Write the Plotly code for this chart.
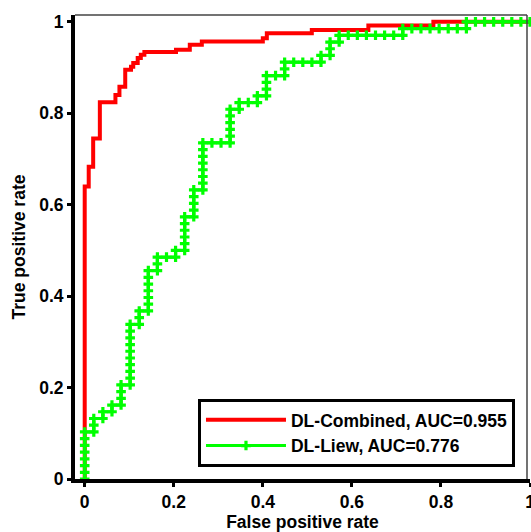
import plotly.graph_objects as go

# ---------------- data ----------------
# DL-Combined ROC curve vertices (false positive rate, true positive rate)
red_fpr = [0.0, 0.0, 0.009, 0.009, 0.019, 0.019, 0.034, 0.034, 0.069, 0.069,
           0.078, 0.078, 0.091, 0.091, 0.104, 0.104, 0.109, 0.109, 0.119, 0.119,
           0.126, 0.126, 0.134, 0.134, 0.205, 0.205, 0.236, 0.236, 0.263, 0.263,
           0.400, 0.400, 0.409, 0.409, 0.510, 0.510, 0.637, 0.637, 0.783, 0.783, 1.0]
red_tpr = [0.0, 0.640, 0.640, 0.683, 0.683, 0.745, 0.745, 0.824, 0.824, 0.840,
           0.840, 0.858, 0.858, 0.895, 0.895, 0.902, 0.902, 0.910, 0.910, 0.921,
           0.921, 0.928, 0.928, 0.934, 0.934, 0.939, 0.939, 0.950, 0.950, 0.957,
           0.957, 0.964, 0.964, 0.975, 0.975, 0.982, 0.982, 0.992, 0.992, 1.0, 1.0]

# DL-Liew ROC: number of negatives / positives and the true-positive count
# reached at each false-positive count (0..N_NEG)
N_NEG = 49
N_POS = 68
green_tp_at_fp = [7, 9, 10, 11, 14, 23, 25, 31, 33, 33,
                  34, 39, 43, 50, 50, 50, 55, 56, 56, 57,
                  60, 60, 62, 62, 62, 62, 63, 65, 66, 66,
                  66, 66, 66, 66, 66, 67, 67, 67, 67, 67,
                  67, 67, 68, 68, 68, 68, 68, 68, 68, 68]

series_names = ["DL-Combined, AUC=0.955", "DL-Liew, AUC=0.776"]
x_ticks = [0, 0.2, 0.4, 0.6, 0.8, 1]
x_tick_labels = ["0", "0.2", "0.4", "0.6", "0.8", "1"]
y_ticks = [0, 0.2, 0.4, 0.6, 0.8, 1]
y_tick_labels = ["0", "0.2", "0.4", "0.6", "0.8", "1"]

# ROC operating points of the DL-Liew curve (one per threshold step)
g_fp, g_tp = [0], [0]
tp = 0
for fp, top in enumerate(green_tp_at_fp):
    if fp > 0:
        g_fp.append(fp)
        g_tp.append(tp)
    while tp < top:
        tp += 1
        g_fp.append(fp)
        g_tp.append(tp)
green_fpr = [v / N_NEG for v in g_fp]
green_tpr = [v / N_POS for v in g_tp]

FONT = "Arial, 'Liberation Sans', sans-serif"
FS = 17.5

fig = go.Figure()
fig.add_trace(go.Scatter(
    x=red_fpr, y=red_tpr, mode="lines", name=series_names[0],
    line=dict(color="#FF0000", width=4), cliponaxis=False))
fig.add_trace(go.Scatter(
    x=green_fpr, y=green_tpr, mode="lines+markers", name=series_names[1],
    line=dict(color="#00FF00", width=3),
    marker=dict(symbol="cross", size=8, color="#00FF00", line=dict(width=0)),
    cliponaxis=False))

fig.update_layout(
    width=531, height=532,
    margin=dict(l=75, r=1, t=15, b=53, autoexpand=False),
    paper_bgcolor="white", plot_bgcolor="white",
    font=dict(family=FONT, size=FS, color="black", weight="bold"),
    showlegend=True,
    legend=dict(x=0.2703, y=0.026, xanchor="left", yanchor="bottom",
                bordercolor="black", borderwidth=3, bgcolor="white",
                font=dict(family=FONT, size=FS, color="black", weight="bold"),
                itemwidth=80, tracegroupgap=0),
    xaxis=dict(range=[-0.0218, 1.0], tickvals=x_ticks, ticktext=x_tick_labels,
               showgrid=False, zeroline=False, showline=True, linecolor="black",
               linewidth=4, ticks="outside", ticklen=4, tickwidth=3,
               tickcolor="black", ticklabelstandoff=0, automargin=False,
               ticklabeloverflow="allow",
               title=dict(text="False positive rate", standoff=9,
                          font=dict(family=FONT, size=FS, weight="bold"))),
    yaxis=dict(range=[0, 1.015], tickvals=y_ticks, ticktext=y_tick_labels,
               showgrid=False, zeroline=False, showline=True, linecolor="black",
               linewidth=4, ticks="outside", ticklen=4, tickwidth=3,
               tickcolor="black", ticklabelstandoff=0, automargin=False,
               ticklabeloverflow="allow",
               title=dict(text="True positive rate", standoff=10,
                          font=dict(family=FONT, size=FS, weight="bold"))),
)

# thin top and right frame lines
fig.add_shape(type="line", xref="paper", yref="paper", x0=0, x1=0.9934, y0=1, y1=1,
              line=dict(color="#444444", width=1.5))
fig.add_shape(type="line", xref="paper", yref="paper", x0=0.9934, x1=0.9934, y0=0, y1=1,
              line=dict(color="#444444", width=1.5))

fig.write_html("out.html", config={"displayModeBar": False},
               post_script="document.body.style.margin='0';document.body.style.overflow='hidden';")
